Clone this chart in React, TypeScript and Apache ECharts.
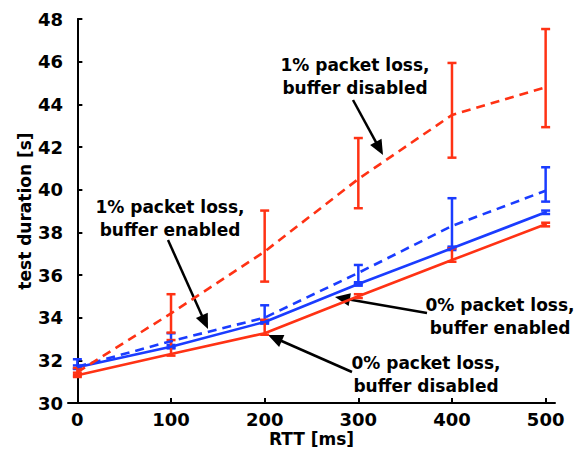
import React, { useEffect, useRef } from "react";
import * as echarts from "echarts";

const rtt = [0, 100, 200, 300, 400, 500];
const yTicks = [30, 32, 34, 36, 38, 40, 42, 44, 46, 48];

// 0% packet loss, buffer disabled (red solid)
const loss0Dis = [31.3, 32.3, 33.27, 35.0, 36.7, 38.38];
const loss0DisLow = [31.22, 32.22, 33.2, 34.92, 36.62, 38.28];
const loss0DisHigh = [31.42, 32.95, 33.9, 35.1, 37.25, 38.45];

// 0% packet loss, buffer enabled (blue solid)
const loss0En = [31.68, 32.64, 33.8, 35.58, 37.25, 38.94];
const loss0EnLow = [31.6, 32.56, 33.72, 35.5, 37.17, 38.86];
const loss0EnHigh = [31.76, 32.72, 33.88, 35.66, 37.33, 39.02];

// 1% packet loss, buffer disabled (red dashed)
const loss1Dis = [31.45, 34.2, 37.1, 40.5, 43.5, 44.8];
const loss1DisLow = [31.3, 33.3, 35.69, 39.13, 41.5, 42.93];
const loss1DisHigh = [31.64, 35.1, 39.02, 42.42, 45.94, 47.53];

// 1% packet loss, buffer enabled (blue dashed)
const loss1En = [31.7, 32.9, 34.0, 36.1, 38.3, 39.95];
const loss1EnLow = [31.6, 32.6, 33.8, 35.58, 37.27, 39.44];
const loss1EnHigh = [32.05, 33.27, 34.58, 36.47, 39.6, 41.05];

const RED = "#ff3214";
const BLUE = "#1a3cff";
const FONT = "DejaVu Sans";

function arrow(x1: number, y1: number, x2: number, y2: number) {
  const dx = x2 - x1;
  const dy = y2 - y1;
  const len = Math.sqrt(dx * dx + dy * dy);
  const ux = dx / len;
  const uy = dy / len;
  const hl = 15;
  const hw = 6.5;
  const bx = x2 - ux * hl;
  const by = y2 - uy * hl;
  return [
    {
      type: "line",
      shape: { x1, y1, x2: bx + ux * 2, y2: by + uy * 2 },
      style: { stroke: "#000", lineWidth: 2.5 },
    },
    {
      type: "polygon",
      shape: {
        points: [
          [x2, y2],
          [bx - uy * hw, by + ux * hw],
          [bx + uy * hw, by - ux * hw],
        ],
      },
      style: { fill: "#000" },
    },
  ];
}

function label(x: number, y: number, text: string) {
  return {
    type: "text",
    x,
    y,
    style: {
      text,
      font: `bold 17px "${FONT}"`,
      fill: "#000",
      align: "center",
      verticalAlign: "middle",
      lineHeight: 23,
    },
  };
}

function errorSeries(low: number[], high: number[], color: string) {
  return {
    type: "custom",
    silent: true,
    z: 3,
    data: rtt.map((x, i) => [x, low[i], high[i]]),
    renderItem: (params: any, api: any) => {
      const x = api.value(0);
      const lo = api.coord([x, api.value(1)]);
      const hi = api.coord([x, api.value(2)]);
      const cw = 4.5;
      const st = { stroke: color, lineWidth: 2.5 };
      return {
        type: "group",
        children: [
          { type: "line", shape: { x1: lo[0], y1: lo[1], x2: hi[0], y2: hi[1] }, style: st },
          { type: "line", shape: { x1: lo[0] - cw, y1: lo[1], x2: lo[0] + cw, y2: lo[1] }, style: st },
          { type: "line", shape: { x1: hi[0] - cw, y1: hi[1], x2: hi[0] + cw, y2: hi[1] }, style: st },
        ],
      };
    },
  };
}

function lineSeries(values: number[], color: string, dashed: boolean) {
  return {
    type: "line",
    data: rtt.map((x, i) => [x, values[i]]),
    symbol: "none",
    z: 4,
    lineStyle: {
      color,
      width: 2.6,
      type: dashed ? [9, 6] : "solid",
    },
  };
}

export default function App() {
  const ref = useRef<HTMLDivElement>(null);
  useEffect(() => {
    if (!ref.current) return;
    const chart = echarts.init(ref.current, null, { renderer: "svg" });
    const axisText = { color: "#000", fontSize: 18, fontWeight: "bold", fontFamily: FONT };
    const nameText = { color: "#000", fontSize: 17, fontWeight: "bold", fontFamily: FONT };
    chart.setOption({
      animation: false,
      backgroundColor: "#fff",
      grid: { left: 68, right: 28, top: 19, bottom: 47, containLabel: false, outerBoundsMode: "none" },
      xAxis: {
        type: "value",
        min: -10,
        max: 510,
        name: "RTT [ms]",
        nameLocation: "middle",
        nameGap: 27,
        nameMoveOverlap: false,
        nameTextStyle: nameText,
        axisLine: { lineStyle: { color: "#000", width: 2 } },
        axisTick: { inside: true, length: 5, lineStyle: { color: "#000", width: 2 }, customValues: rtt },
        axisLabel: { ...axisText, margin: 7, customValues: rtt },
        splitLine: { show: false },
      },
      yAxis: {
        type: "value",
        min: 30,
        max: 48,
        interval: 2,
        name: "test duration [s]",
        nameLocation: "middle",
        nameGap: 35,
        nameMoveOverlap: false,
        nameTextStyle: nameText,
        axisLine: { show: true, lineStyle: { color: "#000", width: 2 } },
        axisTick: { show: true, inside: true, length: 5, lineStyle: { color: "#000", width: 2 }, customValues: yTicks },
        axisLabel: { ...axisText, margin: 5, customValues: yTicks },
        splitLine: { show: false },
      },
      series: [
        errorSeries(loss1EnLow, loss1EnHigh, BLUE),
        errorSeries(loss0EnLow, loss0EnHigh, BLUE),
        lineSeries(loss1En, BLUE, true),
        lineSeries(loss0En, BLUE, false),
        errorSeries(loss1DisLow, loss1DisHigh, RED),
        errorSeries(loss0DisLow, loss0DisHigh, RED),
        lineSeries(loss1Dis, RED, true),
        lineSeries(loss0Dis, RED, false),
      ],
      graphic: [
        label(355, 76.5, "1% packet loss,\nbuffer disabled"),
        ...arrow(353, 100, 383, 155),
        label(170, 218.5, "1% packet loss,\nbuffer enabled"),
        ...arrow(168, 240, 208, 329),
        label(500, 316.5, "0% packet loss,\nbuffer enabled"),
        ...arrow(427, 313, 335, 297),
        label(426, 374.5, "0% packet loss,\nbuffer disabled"),
        ...arrow(352, 372, 268, 335),
      ],
    });
    return () => chart.dispose();
  }, []);
  return <div ref={ref} style={{ width: 583, height: 450, position: "absolute", left: 0, top: 0 }} />;
}
